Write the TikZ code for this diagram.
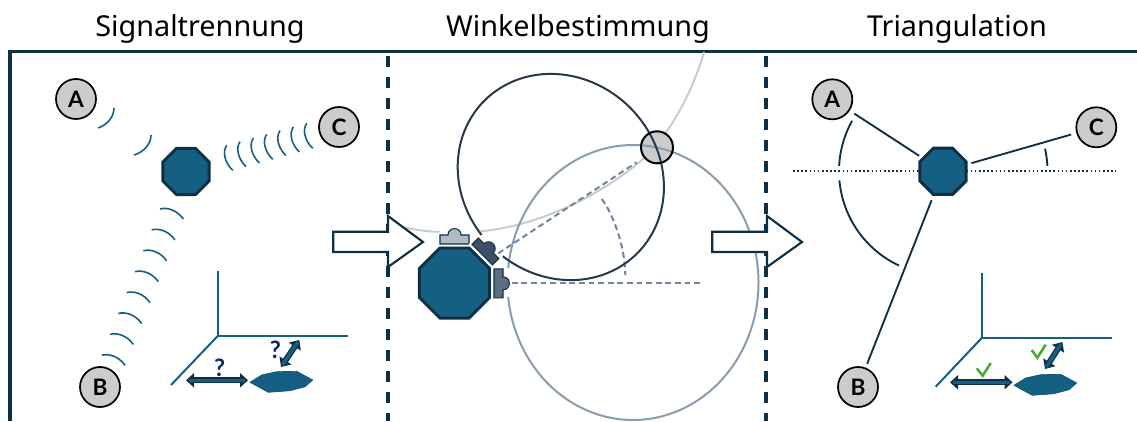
\documentclass[tikz,border=0pt]{standalone}
\usepackage{fontspec}
\setmainfont{Noto Sans}
\newfontfamily\markfont{Lato}
\usetikzlibrary{shapes.geometric,arrows.meta}
\definecolor{navy}{HTML}{0E2F44}
\definecolor{teal}{HTML}{156082}
\definecolor{ringdark}{HTML}{26384C}
\definecolor{ringmid}{HTML}{8A9CAD}
\definecolor{ringlight}{HTML}{C5CCD4}
\definecolor{dashgray}{HTML}{71849A}
\definecolor{okgreen}{HTML}{4EA72E}
\definecolor{sensA}{HTML}{B0B9C5}
\definecolor{sensB}{HTML}{3E5068}
\definecolor{sensC}{HTML}{5D6E82}
\tikzset{
  frameline/.style={navy,line width=2.4pt},
  divider/.style={navy,line width=2.3pt,dash pattern=on 8.6pt off 7.15pt},
  wave/.style={teal,line width=1.2pt},
  axisline/.style={teal,line width=1.5pt},
  station/.style={circle,draw=black,fill=black!20,line width=1.3pt,minimum size=30pt,inner sep=0pt,font=\markfont\fontsize{17}{17}\selectfont\bfseries},
  octa/.style={regular polygon,regular polygon sides=8,draw=navy,fill=teal,line width=2.2pt,inner sep=0pt},
  flatocta/.style={fill=teal,draw=teal!70!navy,line width=.5pt},
  bigarrow/.style={fill=white,draw=navy,line width=1.6pt,line join=miter},
  title/.style={anchor=base,font=\fontsize{21.6}{24}\selectfont},
  qmark/.style={font=\markfont\fontsize{18}{18}\selectfont\bfseries,text=navy!85!blue,inner sep=0pt},
  leg/.style={navy,line width=1.4pt},
  tinyarc/.style={navy,line width=1.4pt},
  dashline/.style={dashgray,line width=1.5pt,dash pattern=on 4.4pt off 2.8pt},
  check/.style={okgreen,line width=1.9pt},
}
\newcommand{\dblarrow}[2]{%
  \draw[navy,line width=4.4pt,{Triangle[length=6pt,width=10.5pt]}-{Triangle[length=6pt,width=10.5pt]}] #1 -- #2;
  \draw[teal,line width=2.4pt,shorten <=2pt,shorten >=2pt] #1 -- #2;}
\newcommand{\sensorshape}[1]{%
  \path[draw=white,line width=3.5pt] (-14.5,9) -- (-14.5,0) -- (-6.5,0) .. controls (-6.5,-8.5) and (6.5,-8.5) .. (6.5,0) -- (14.5,0) -- (14.5,9) -- cycle;
  \path[draw=navy,line width=.8pt,fill=#1] (-14.5,9) -- (-14.5,0) -- (-6.5,0) .. controls (-6.5,-8.5) and (6.5,-8.5) .. (6.5,0) -- (14.5,0) -- (14.5,9) -- cycle;}
\begin{document}
\begin{tikzpicture}[x=0.75pt,y=-0.75pt]
\useasboundingbox (0,0) rectangle (1137,421);
% titles
\node[title] (t1) at (200,36) {Signaltrennung};
\node[title] (t2) at (578,36) {Winkelbestimmung};
\node[title] (t3) at (957,36) {Triangulation};
% frame
\draw[frameline] (10,421) -- (10,51.5) -- (1137,51.5);
\coordinate (d1a) at (388,56); \coordinate (d1b) at (388,421);
\coordinate (d2a) at (766,56); \coordinate (d2b) at (766,421);
\draw[divider] (d1a) -- (d1b);
\draw[divider] (d2a) -- (d2b);
% ---- left panel
\node[station] (A) at (76,99) {A};
\node[station] (C) at (339,127) {C};
\node[station] (B) at (100,387) {B};
\node[octa,minimum size=37.5pt] (R1) at (186,171.5) {};
\draw[wave] (114,108) .. controls (114,117) and (107,125) .. (98,128);
\draw[wave] (151,135) .. controls (151,144) and (144,152) .. (134,155);
\foreach \i in {0,...,6}
  \draw[wave,shift={({-13.33*\i},{3.67*\i})}] (306.7,123.3) .. controls (302,130) and (305,141) .. (312.7,148.3);
\foreach \i in {0,...,7}
  \draw[wave,shift={({-8.33*\i},{20.9*\i})}] (160,209) .. controls (167,207) and (177,210) .. (183.3,219);
\coordinate (O1) at (217.7,336);
\coordinate (O1z) at (217.7,270.7);
\coordinate (O1x) at (347.7,336);
\coordinate (O1y) at (171,385);
\draw[axisline] (O1z) -- (O1) -- (O1x);
\draw[axisline] (O1) -- (O1y);
\coordinate (a1) at (186,380.3); \coordinate (a2) at (248,380.3);
\dblarrow{(a1)}{(a2)}
\coordinate (a3) at (281,367); \coordinate (a4) at (299.3,340);
\dblarrow{(a3)}{(a4)}
\draw[flatocta] (250,382.3) -- (261.7,375) -- (276.7,371.7) -- (296.7,371.3) -- (312.7,380) -- (305,386.7) -- (290,390.7) -- (268.3,392.3) -- cycle;
\node[qmark] (q1) at (219.7,367.7) {?};
\node[qmark] (q2) at (275.3,349.7) {?};
% ---- middle panel
\fill[black!20] (657,147.3) circle (16);
\draw[ringlight,line width=1.5pt] (395,225.5) .. controls (410,229) and (425,231.5) .. (440,232);
\draw[ringlight,line width=1.5pt] (479,231.5) .. controls (540,226) and (600,195) .. (640,161.7) .. controls (665,140) and (690,100) .. (704,52);
\coordinate (S2) at (498.3,253.3);
\coordinate (S2t) at (636.7,162.3);
\coordinate (S3) at (511.7,283.3);
\coordinate (S3t) at (700.7,283.3);
\draw[dashline] (S2) -- (S2t);
\draw[dashline] (S3) -- (S3t);
\draw[dashline] (601.7,199) .. controls (612,212) and (625,245) .. (625.3,275);
\draw[ringmid,line width=1.5pt] plot[domain=186:534,samples=160,variable=\t,smooth] ({633+125.5*cos(\t)},{282.5+137.5*sin(\t)});
\draw[ringdark,line width=1.5pt] plot[domain=-82:262,samples=160,variable=\t,smooth] ({560.8+0.7071*(108*cos(\t)+98*sin(\t))},{177+0.7071*(108*cos(\t)-98*sin(\t))});
\node[circle,draw=black,line width=1.5pt,minimum size=24pt,inner sep=0pt] (X) at (657,147.3) {};
\node[octa,minimum size=57pt] (R2) at (454.5,283) {};
\begin{scope}[shift={(454.5,235)}]\sensorshape{sensA}\end{scope}
\begin{scope}[shift={(488.6,248.3)},rotate=-45]\sensorshape{sensB}\end{scope}
\begin{scope}[shift={(503,283.3)},rotate=-90]\sensorshape{sensC}\end{scope}
% big arrows
\draw[bigarrow] (333.3,231.7) -- (388,231.7) -- (388,216) -- (423,242) -- (388,267) -- (388,252) -- (333.3,252) -- cycle;
\draw[bigarrow] (712.3,231.7) -- (767,231.7) -- (767,216) -- (802,242) -- (767,267) -- (767,252) -- (712.3,252) -- cycle;
% ---- right panel
\node[station] (A3) at (832.3,99.3) {A};
\node[station] (C3) at (1096.3,127.3) {C};
\node[station] (B3) at (858,387) {B};
\coordinate (hL) at (793,171.3); \coordinate (hR) at (1116,171.3);
\draw[navy,line width=1.3pt,dash pattern=on 1.2pt off 1.9pt] (hL) -- (hR);
\node[octa,minimum size=37.5pt] (R3) at (943,171.3) {};
\draw[leg,shorten <=4pt,shorten >=2.5pt] (A3) -- (R3);
\draw[leg,shorten <=4pt,shorten >=3pt] (C3) -- (R3);
\draw[leg,shorten <=3pt,shorten >=3.5pt] (B3) -- (R3);
\draw[tinyarc] plot[domain=209:183,samples=30,variable=\t,smooth] ({943+104*cos(\t)},{171.3+104*sin(\t)});
\draw[tinyarc] plot[domain=175:115,samples=40,variable=\t,smooth] ({943+104*cos(\t)},{171.3+104*sin(\t)});
\draw[tinyarc] plot[domain=-12.5:-3,samples=10,variable=\t,smooth] ({943+104.5*cos(\t)},{171.3+104.5*sin(\t)});
\coordinate (O3) at (981.7,338);
\coordinate (O3z) at (981.7,272.7);
\coordinate (O3x) at (1112,338);
\coordinate (O3y) at (935.7,386.7);
\draw[axisline] (O3z) -- (O3) -- (O3x);
\draw[axisline] (O3) -- (O3y);
\coordinate (b1) at (950,382.3); \coordinate (b2) at (1012.5,382.3);
\dblarrow{(b1)}{(b2)}
\coordinate (b3) at (1045,369); \coordinate (b4) at (1062.3,342);
\dblarrow{(b3)}{(b4)}
\draw[flatocta] (1014,385.3) -- (1025.7,378) -- (1040.7,374.7) -- (1060.7,374.3) -- (1076.7,383) -- (1069,389.7) -- (1054,393.7) -- (1032.3,395.3) -- cycle;
\draw[check] (976.7,368.3) -- (982.7,375.7) -- (990.7,363);
\draw[check] (1031.7,350) -- (1037.3,357.7) -- (1045.7,344.7);
\end{tikzpicture}
\end{document}
